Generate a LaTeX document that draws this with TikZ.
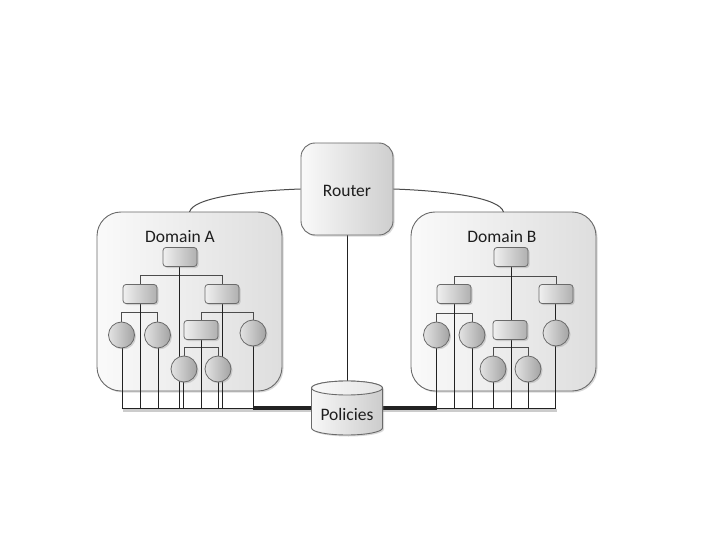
\documentclass[tikz,border=0pt]{standalone}
\usepackage{fontspec}
\setmainfont{Carlito}
\usetikzlibrary{shadows,calc}
\pgfdeclarelayer{back}
\pgfdeclarelayer{lines}
\pgfsetlayers{back,lines,main}
\definecolor{edge}{HTML}{6A6A6A}
\definecolor{wire}{HTML}{222222}
\definecolor{txt}{HTML}{1E1E1E}
\tikzset{
  shd/.style={drop shadow={opacity=0.3, shadow xshift=1.5pt, shadow yshift=-1.5pt}},
  domainbox/.style={draw=edge, line width=0.9pt, rounded corners=24pt, left color=gray!4, right color=gray!26, shd},
  routerbox/.style={draw=edge, line width=0.9pt, rounded corners=14pt, left color=gray!4, right color=gray!38, shd,
     minimum width=92pt, minimum height=92pt},
  leaf/.style={draw=edge, line width=0.8pt, rounded corners=3pt, left color=gray!12, right color=gray!62, shd,
     minimum width=34pt, minimum height=19pt, inner sep=0pt},
  ball/.style={draw=edge, line width=0.8pt, circle, left color=gray!22, right color=gray!72, shd,
     minimum size=26pt, inner sep=0pt},
  lbl/.style={font=\fontsize{17.5}{19}\selectfont, text=txt, inner sep=0pt},
  tree/.style={draw=gray!60!black, line width=1pt},
  busline/.style={draw=wire, line width=1pt},
  heavyfill/.style={fill=wire, draw=none},
  busshadow/.style={draw=black, opacity=0.2, line width=2.5pt},
  link/.style={draw=gray!60!black, line width=1pt},
}
\begin{document}
\begin{tikzpicture}[x=1pt,y=-1pt]
\useasboundingbox (0,0) rectangle (720,540);
\coordinate (busy) at (0,408);
% domains
\begin{pgfonlayer}{back}
\path[domainbox] (97,212) rectangle (282,391);
\path[domainbox] (411,212) rectangle (596,391);
\end{pgfonlayer}
\coordinate (domA) at (189.5,212);
\coordinate (domB) at (503.5,212);
\node[lbl] (labA) at (180,237) {Domain A};
\node[lbl] (labB) at (502,237) {Domain B};
% router
\node[routerbox] (router) at (347,189) {};
\node[lbl] (routert) at (347,191) {Router};
% policies cylinder
\node[minimum width=71pt, minimum height=54pt, inner sep=0pt] (pol) at (347,408) {};
\path[draw=edge, line width=0.9pt, left color=gray!6, right color=gray!40, shd]
  (311.5,388) -- (311.5,428) arc[start angle=180, end angle=360, x radius=35.5pt, y radius=7pt]
  -- (382.5,388) arc[start angle=0, end angle=180, x radius=35.5pt, y radius=7pt] -- cycle;
\path[draw=edge, line width=0.9pt, left color=gray!4, right color=gray!22] (347,388) ellipse[x radius=35.5pt, y radius=7pt];
\coordinate (poltop) at (347,381);
\node[lbl] (polt) at (347,414) {Policies};
% domain A nodes
\node[leaf] (tA) at (180,257) {};
\node[leaf] (lA) at (140,294) {};
\node[leaf] (rA) at (222,294) {};
\node[leaf] (mA) at (201,330) {};
\node[ball] (c1) at (121.5,335) {};
\node[ball] (c2) at (157.5,335) {};
\node[ball] (c3) at (253,333) {};
\node[ball] (c4) at (184,369) {};
\node[ball] (c5) at (218,369) {};
% domain B nodes
\node[leaf] (tB) at (511,257) {};
\node[leaf] (lB) at (454,294) {};
\node[leaf] (rB) at (556,294) {};
\node[leaf] (mB) at (510,330) {};
\node[ball] (d1) at (436.5,335) {};
\node[ball] (d2) at (472,335) {};
\node[ball] (d3) at (556,333) {};
\node[ball] (d4) at (493,369) {};
\node[ball] (d5) at (528,369) {};
\begin{pgfonlayer}{lines}
% router links
\path[link] (router.west) .. controls (245,191) and (193,198) .. (domA);
\path[link] (router.east) .. controls (449,191) and (500,198) .. (domB);
\path[busline] (router.south) -- (poltop);
% trees A
\path[tree] (lA) |- ($(tA.south)+(0,9)$) -| (rA);
\path[tree] (c1) |- ($(lA.south)+(0,9)$) -| (c2);
\path[tree] (mA) |- ($(rA.south)+(0,9)$) -| (c3);
\path[tree] (c4) |- ($(mA.south)+(0,8)$) -| (c5);
% trees B
\path[tree] (lB) |- ($(tB.south)+(0,10)$) -| (rB);
\path[tree] (d1) |- ($(lB.south)+(0,10)$) -| (d2);
\path[tree] (d4) |- ($(mB.south)+(0,8)$) -| (d5);
% drops to bus A
\foreach \n/\x in {c1/122, lA/140, c2/158, tA/179, c4/183, mA/201, c5/218, rA/222, c3/253}
  \path[busline] (\n -| \x,0) -- (\x,408);
% drops to bus B
\foreach \n/\x in {d1/436, lB/454, d2/472, d4/493, tB/511, d5/528, rB/555}
  \path[busline] (\n -| \x,0) -- (\x,408);
\path[busshadow] ($(c1 |- busy)+(1,2.5)$) -- ($(d3 |- busy)+(1,2.5)$);
\path[busline] (c1 |- busy) -- (c3 |- busy);
\path[busline] (d1 |- busy) -- (d3 |- busy);
\path[heavyfill] ($(c3 |- busy)+(0,-1.8)$) rectangle ($(pol.west)+(0,1.8)$);
\path[heavyfill] ($(pol.east)+(0,-1.8)$) rectangle ($(d1 |- busy)+(0,1.8)$);
\end{pgfonlayer}
\end{tikzpicture}
\end{document}
